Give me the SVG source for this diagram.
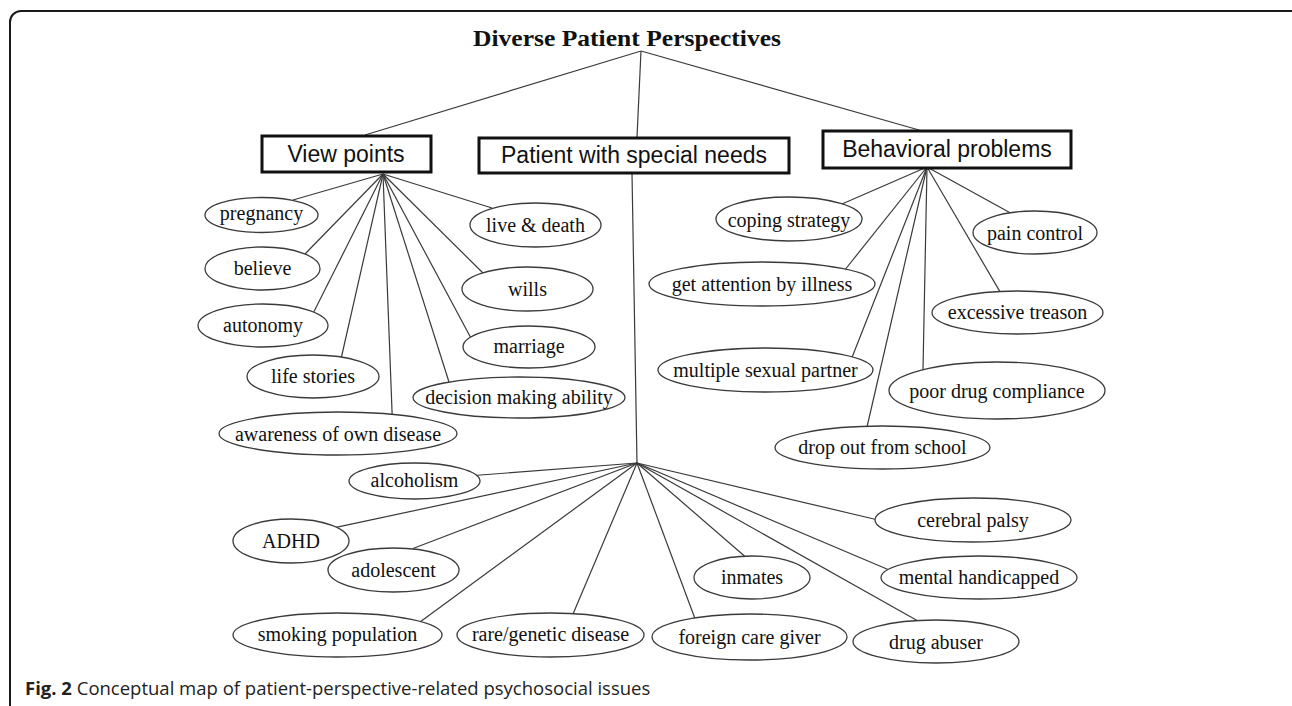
<svg xmlns="http://www.w3.org/2000/svg" width="1292" height="706" viewBox="0 0 1292 706">
<style>
.frame{fill:none;stroke:#1a1a1a;stroke-width:2}
.cn line{stroke:#3a3a3a;stroke-width:1.2}
.box{fill:#fff;stroke:#111;stroke-width:3}
.ell{fill:#fff;stroke:#3a3a3a;stroke-width:1.3}
.bt{font-family:"Liberation Sans",Arial,sans-serif;font-size:23px;fill:#111;text-anchor:middle}
.et{font-family:"Liberation Serif","Times New Roman",serif;font-size:20px;fill:#111;text-anchor:middle}
.title{font-family:"Liberation Serif","Times New Roman",serif;font-size:24px;font-weight:bold;fill:#111}
.cap{font-family:"Open Sans","Noto Sans",sans-serif;font-size:18.5px;fill:#222}
</style>
<rect width="1292" height="706" fill="#fff"/>
<rect class="frame" x="10" y="11" width="1300" height="720" rx="11"/>
<g id="connectors" class="cn">
<line x1="641" y1="51" x2="365" y2="135"/>
<line x1="641" y1="51" x2="637" y2="137"/>
<line x1="641" y1="51" x2="919" y2="130"/>
<line x1="383" y1="174" x2="293" y2="200"/>
<line x1="383" y1="174" x2="492" y2="208"/>
<line x1="383" y1="174" x2="304" y2="255"/>
<line x1="383" y1="174" x2="485" y2="275"/>
<line x1="383" y1="174" x2="313" y2="313.6"/>
<line x1="383" y1="174" x2="472" y2="340"/>
<line x1="383" y1="174" x2="341" y2="359"/>
<line x1="383" y1="174" x2="449" y2="382"/>
<line x1="383" y1="174" x2="392.2" y2="416"/>
<line x1="927" y1="167" x2="842" y2="204"/>
<line x1="927" y1="167" x2="1010.5" y2="213"/>
<line x1="927" y1="167" x2="844" y2="271"/>
<line x1="927" y1="167" x2="1000.5" y2="292.6"/>
<line x1="927" y1="167" x2="851.5" y2="358.7"/>
<line x1="927" y1="167" x2="923" y2="370"/>
<line x1="927" y1="167" x2="867" y2="427"/>
<line x1="632" y1="173" x2="637" y2="463"/>
<line x1="637" y1="463" x2="474" y2="475.5"/>
<line x1="637" y1="463" x2="336" y2="527.4"/>
<line x1="637" y1="463" x2="413" y2="548.5"/>
<line x1="637" y1="463" x2="420" y2="622"/>
<line x1="637" y1="463" x2="573" y2="614"/>
<line x1="637" y1="463" x2="695.4" y2="619.7"/>
<line x1="637" y1="463" x2="745" y2="556.5"/>
<line x1="637" y1="463" x2="918" y2="621"/>
<line x1="637" y1="463" x2="888" y2="569.5"/>
<line x1="637" y1="463" x2="876" y2="519.5"/>
</g>
<g id="title"><text class="title" x="473" y="46" textLength="308" lengthAdjust="spacingAndGlyphs">Diverse Patient Perspectives</text></g>
<g id="view-points"><rect class="box" x="262" y="136" width="169" height="36"/><text class="bt" x="346" y="162">View points</text></g>
<g id="special-needs"><rect class="box" x="479" y="138" width="310" height="35"/><text class="bt" x="634" y="163">Patient with special needs</text></g>
<g id="behavioral"><rect class="box" x="823" y="131" width="248" height="37"/><text class="bt" x="947" y="157">Behavioral problems</text></g>
<g id="pregnancy"><ellipse class="ell" cx="261.5" cy="215" rx="56.5" ry="17.5"/><text class="et" x="261.5" y="220">pregnancy</text></g>
<g id="live-death"><ellipse class="ell" cx="535.5" cy="225" rx="65.5" ry="22"/><text class="et" x="535.5" y="232">live &amp; death</text></g>
<g id="believe"><ellipse class="ell" cx="262.5" cy="268.5" rx="57.5" ry="21.5"/><text class="et" x="262.5" y="275">believe</text></g>
<g id="wills"><ellipse class="ell" cx="527.5" cy="289" rx="65.5" ry="22"/><text class="et" x="527.5" y="296">wills</text></g>
<g id="autonomy"><ellipse class="ell" cx="263" cy="325.5" rx="65" ry="21.5"/><text class="et" x="263" y="332">autonomy</text></g>
<g id="marriage"><ellipse class="ell" cx="529" cy="347" rx="66" ry="21"/><text class="et" x="529" y="353">marriage</text></g>
<g id="life-stories"><ellipse class="ell" cx="313" cy="376.5" rx="66" ry="21.5"/><text class="et" x="313" y="382.5">life stories</text></g>
<g id="decision"><ellipse class="ell" cx="519" cy="397.5" rx="106" ry="20.5"/><text class="et" x="519" y="404">decision making ability</text></g>
<g id="awareness"><ellipse class="ell" cx="338" cy="433.5" rx="119" ry="21.5"/><text class="et" x="338" y="441">awareness of own disease</text></g>
<g id="coping"><ellipse class="ell" cx="789" cy="219" rx="73" ry="22"/><text class="et" x="789" y="226.5">coping strategy</text></g>
<g id="pain"><ellipse class="ell" cx="1035" cy="232.5" rx="62" ry="21.5"/><text class="et" x="1035" y="240">pain control</text></g>
<g id="attention"><ellipse class="ell" cx="762" cy="284" rx="113" ry="22"/><text class="et" x="762" y="291">get attention by illness</text></g>
<g id="treason"><ellipse class="ell" cx="1017.5" cy="312.5" rx="85.5" ry="21.5"/><text class="et" x="1017.5" y="319">excessive treason</text></g>
<g id="sexual"><ellipse class="ell" cx="765.5" cy="370" rx="107.5" ry="22"/><text class="et" x="765.5" y="377">multiple sexual partner</text></g>
<g id="compliance"><ellipse class="ell" cx="997" cy="390.5" rx="108" ry="28.5"/><text class="et" x="997" y="398">poor drug compliance</text></g>
<g id="dropout"><ellipse class="ell" cx="882.5" cy="447.5" rx="107.5" ry="21.5"/><text class="et" x="882.5" y="454">drop out from school</text></g>
<g id="alcoholism"><ellipse class="ell" cx="414.5" cy="481" rx="65.5" ry="18"/><text class="et" x="414.5" y="487">alcoholism</text></g>
<g id="adhd"><ellipse class="ell" cx="291" cy="541" rx="58" ry="22"/><text class="et" x="291" y="548">ADHD</text></g>
<g id="adolescent"><ellipse class="ell" cx="393.5" cy="570" rx="65.5" ry="22"/><text class="et" x="393.5" y="577">adolescent</text></g>
<g id="smoking"><ellipse class="ell" cx="337.5" cy="635" rx="104.5" ry="22"/><text class="et" x="337.5" y="641">smoking population</text></g>
<g id="rare"><ellipse class="ell" cx="550.5" cy="635" rx="93.5" ry="22"/><text class="et" x="550.5" y="641">rare/genetic disease</text></g>
<g id="foreign"><ellipse class="ell" cx="749.5" cy="637" rx="97.5" ry="23"/><text class="et" x="749.5" y="644">foreign care giver</text></g>
<g id="inmates"><ellipse class="ell" cx="752" cy="577.5" rx="58" ry="21.5"/><text class="et" x="752" y="584">inmates</text></g>
<g id="drug-abuser"><ellipse class="ell" cx="936" cy="641.5" rx="83" ry="21.5"/><text class="et" x="936" y="649">drug abuser</text></g>
<g id="mental"><ellipse class="ell" cx="979" cy="577.5" rx="98" ry="21.5"/><text class="et" x="979" y="584">mental handicapped</text></g>
<g id="cerebral"><ellipse class="ell" cx="973" cy="520" rx="98" ry="22"/><text class="et" x="973" y="527">cerebral palsy</text></g>
<g id="caption"><text class="cap" x="25" y="695"><tspan font-weight="bold">Fig. 2</tspan> Conceptual map of patient-perspective-related psychosocial issues</text></g>
</svg>
